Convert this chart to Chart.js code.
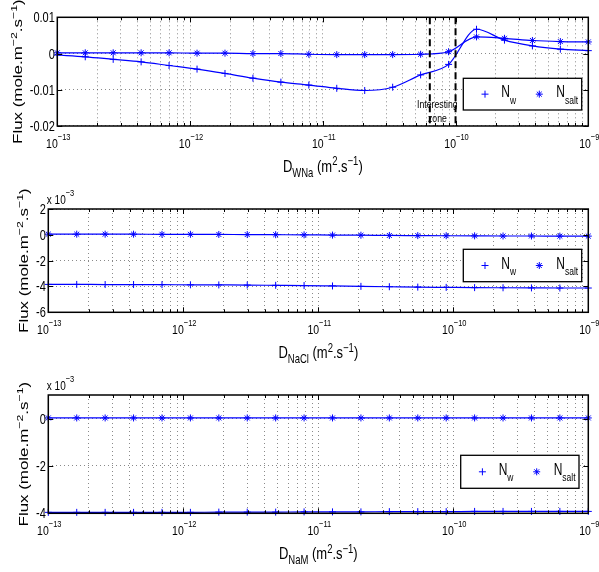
<!DOCTYPE html>
<html>
<head>
<meta charset="utf-8">
<script src="https://cdn.jsdelivr.net/npm/chart.js@4/dist/chart.umd.min.js"></script>
<style>
  html, body { margin: 0; padding: 0; background: #fff; }
  #wrap { position: relative; width: 599px; height: 572px; overflow: hidden; background: #fff; }
  #wrap canvas { position: absolute; left: 0; top: 0; }
</style>
</head>
<body>
<div id="wrap">
  <canvas id="pWNa" width="599" height="572"></canvas>
  <canvas id="pNaCl" width="599" height="572"></canvas>
  <canvas id="pNaM" width="599" height="572"></canvas>
</div>
<script>
// Diffusion coefficients swept (m^2.s^-1), 20 log-spaced points
const diffusivities = [1.000e-13, 1.624e-13, 2.637e-13, 4.281e-13, 6.952e-13,
                       1.129e-12, 1.833e-12, 2.976e-12, 4.833e-12, 7.848e-12,
                       1.274e-11, 2.069e-11, 3.360e-11, 5.456e-11, 8.859e-11,
                       1.438e-10, 2.336e-10, 3.793e-10, 6.158e-10, 1.000e-9];

// Fluxes (mole.m^-2.s^-1) versus D_WNa
const nwWNa    = [-0.0004, -0.0009, -0.0016, -0.0023, -0.0033, -0.0043, -0.0055, -0.0068, -0.0079, -0.0087,
                  -0.0096, -0.0102, -0.0093, -0.0059, -0.0030, 0.0067, 0.0037, 0.0021, 0.0012, 0.0008];
const nsaltWNa = [0.0002, 0.0002, 0.0002, 0.0002, 0.0002, 0.0001, 0.0001, 0.0000, 0.0000, -0.0002,
                  -0.0003, -0.0003, -0.0003, -0.0002, 0.0005, 0.0046, 0.0042, 0.0036, 0.0033, 0.0032];

// Fluxes (mole.m^-2.s^-1) versus D_NaCl
const nwNaCl    = [-3.84e-3, -3.84e-3, -3.85e-3, -3.85e-3, -3.86e-3, -3.87e-3, -3.88e-3, -3.89e-3, -3.91e-3, -3.93e-3,
                   -3.96e-3, -3.99e-3, -4.02e-3, -4.05e-3, -4.07e-3, -4.09e-3, -4.10e-3, -4.11e-3, -4.12e-3, -4.12e-3];
const nsaltNaCl = [0.05e-3, 0.05e-3, 0.05e-3, 0.05e-3, 0.04e-3, 0.04e-3, 0.03e-3, 0.02e-3, 0.01e-3, 0.00e-3,
                   -0.02e-3, -0.03e-3, -0.05e-3, -0.06e-3, -0.07e-3, -0.08e-3, -0.09e-3, -0.09e-3, -0.10e-3, -0.10e-3];

// Fluxes (mole.m^-2.s^-1) versus D_NaM
const nwNaM    = [-3.96e-3, -3.96e-3, -3.96e-3, -3.96e-3, -3.96e-3, -3.96e-3, -3.95e-3, -3.95e-3, -3.95e-3, -3.94e-3,
                  -3.94e-3, -3.94e-3, -3.93e-3, -3.93e-3, -3.93e-3, -3.92e-3, -3.92e-3, -3.92e-3, -3.92e-3, -3.92e-3];
const nsaltNaM = [0.03e-3, 0.03e-3, 0.03e-3, 0.03e-3, 0.03e-3, 0.03e-3, 0.03e-3, 0.03e-3, 0.03e-3, 0.03e-3,
                  0.03e-3, 0.03e-3, 0.03e-3, 0.03e-3, 0.03e-3, 0.03e-3, 0.03e-3, 0.03e-3, 0.03e-3, 0.03e-3];

// Axis ticks and their labels
const xDecades        = [1e-13, 1e-12, 1e-11, 1e-10, 1e-9];
const xDecadeExponent = ['−13', '−12', '−11', '−10', '−9'];
const xMinorMultipliers = [2, 3, 4, 5, 6, 7, 8, 9];
const yTicksWNa       = [-0.02, -0.01, 0, 0.01];
const yTickLabelsWNa  = ['-0.02', '-0.01', '0', '0.01'];
const yTicksNaCl      = [-0.006, -0.004, -0.002, 0, 0.002];
const yTickLabelsNaCl = ['-6', '-4', '-2', '0', '2'];
const yTicksNaM       = [-0.004, -0.002, 0];
const yTickLabelsNaM  = ['-4', '-2', '0'];

// Boundaries of the highlighted D_WNa range and where its caption sits
const zoneBounds = [6.4e-11, 1.0e-10];
const zoneCaptionAt = 7.3e-11;

// ---- drawing helpers ----
const FONT = '"Liberation Sans", Arial, Helvetica, sans-serif';
const STRETCH = 1.3;   // glyphs are drawn taller than wide
const BLUE = '#0000ff';

const xGridValues = [];
xDecades.forEach((d, i) => {
  xGridValues.push(d);
  if (i < xDecades.length - 1) xMinorMultipliers.forEach(m => xGridValues.push(m * d));
});

function richWidth(ctx, segs) {
  let w = 0;
  segs.forEach(s => { ctx.font = s.size + 'px ' + FONT; w += ctx.measureText(s.t).width; });
  return w;
}
function drawRich(ctx, segs, x, y, align, vertical) {
  ctx.save();
  ctx.translate(x, y);
  if (vertical) { ctx.rotate(-Math.PI / 2); ctx.scale(STRETCH, 1); }
  else ctx.scale(1, STRETCH);
  const w = richWidth(ctx, segs);
  let cx = align === 'center' ? -w / 2 : align === 'right' ? -w : 0;
  ctx.fillStyle = '#000';
  ctx.textAlign = 'left';
  ctx.textBaseline = 'alphabetic';
  segs.forEach(s => {
    ctx.font = s.size + 'px ' + FONT;
    ctx.fillText(s.t, cx, s.dy || 0);
    cx += ctx.measureText(s.t).width;
  });
  ctx.restore();
  return w;
}
function drawMarker(ctx, style, x, y, r) {
  ctx.save();
  ctx.strokeStyle = BLUE;
  ctx.lineWidth = 1;
  ctx.beginPath();
  ctx.moveTo(x - r, y); ctx.lineTo(x + r, y);
  ctx.moveTo(x, y - r); ctx.lineTo(x, y + r);
  if (style === 'star') {
    const d = r * Math.SQRT1_2;
    ctx.moveTo(x - d, y - d); ctx.lineTo(x + d, y + d);
    ctx.moveTo(x - d, y + d); ctx.lineTo(x + d, y - d);
  }
  ctx.stroke();
  ctx.restore();
}

// Box, inward ticks, tick labels, axis titles, legend and annotations
const panelDecor = {
  id: 'panelDecor',
  afterDraw(chart, args, o) {
    const ctx = chart.ctx, a = chart.chartArea;
    const xs = chart.scales.x, ys = chart.scales.y;
    ctx.save();

    // inward tick marks on all four sides
    ctx.strokeStyle = '#000';
    ctx.lineWidth = 1;
    ctx.beginPath();
    xGridValues.forEach(v => {
      const x = Math.round(xs.getPixelForValue(v)) + 0.5;
      const len = xDecades.includes(v) ? 5 : 3;
      ctx.moveTo(x, a.bottom); ctx.lineTo(x, a.bottom - len);
      ctx.moveTo(x, a.top); ctx.lineTo(x, a.top + len);
    });
    o.yTicks.forEach(v => {
      const y = Math.round(ys.getPixelForValue(v)) + 0.5;
      ctx.moveTo(a.left, y); ctx.lineTo(a.left + 5, y);
      ctx.moveTo(a.right, y); ctx.lineTo(a.right - 5, y);
    });
    ctx.stroke();

    // axes box
    ctx.lineWidth = 1.5;
    ctx.strokeRect(a.left, a.top, a.right - a.left, a.bottom - a.top);

    // highlighted range
    if (o.zone) {
      ctx.save();
      ctx.strokeStyle = '#000';
      ctx.lineWidth = 2;
      ctx.setLineDash([7, 4]);
      zoneBounds.forEach(v => {
        const x = xs.getPixelForValue(v);
        ctx.beginPath(); ctx.moveTo(x, a.top); ctx.lineTo(x, a.bottom); ctx.stroke();
      });
      ctx.restore();
      const zx = xs.getPixelForValue(zoneCaptionAt);
      drawRich(ctx, [{ t: 'Interesting', size: 8.7 }], zx, a.top + 91, 'center');
      drawRich(ctx, [{ t: 'zone', size: 8.7 }], zx, a.top + 104.4, 'center');
    }

    // y tick labels
    let minLeft = a.left;
    o.yTicks.forEach((v, i) => {
      const y = ys.getPixelForValue(v);
      const w = drawRich(ctx, [{ t: o.yLabels[i], size: 11 }], a.left - 2.5, y + 5, 'right');
      minLeft = Math.min(minLeft, a.left - 2.5 - w);
    });

    // x tick labels (powers of ten)
    xDecades.forEach((v, i) => {
      const x = xs.getPixelForValue(v);
      drawRich(ctx, [{ t: '10', size: 10.5 }, { t: xDecadeExponent[i], size: 7.5, dy: -6 }],
               x + 1, a.bottom + 21.5, 'center');
    });

    // multiplier above the y axis
    if (o.exponent) {
      drawRich(ctx, [{ t: 'x 10', size: 10 }, { t: o.exponent, size: 7.5, dy: -6 }],
               a.left - 1.5, a.top - 5.5, 'left');
    }

    // x axis title
    drawRich(ctx, [
      { t: 'D', size: 13 }, { t: o.sub, size: 9.5, dy: 3.8 },
      { t: ' (m', size: 13 }, { t: '2', size: 9.5, dy: -5.2 },
      { t: '.s', size: 13 }, { t: '−1', size: 9.5, dy: -5.2 }, { t: ')', size: 13 }
    ], (a.left + a.right) / 2, a.bottom + 46, 'center');

    // y axis title
    drawRich(ctx, [
      { t: 'Flux (mole.m', size: 13 }, { t: '−2', size: 9.5, dy: -5.2 },
      { t: '.s', size: 13 }, { t: '−1', size: 9.5, dy: -5.2 }, { t: ')', size: 13 }
    ], minLeft - 8, (a.top + a.bottom) / 2, 'center', true);

    // legend
    const L = o.legend;
    const bx = a.right - L.right - L.w, by = a.top + L.top;
    ctx.fillStyle = '#fff';
    ctx.fillRect(bx, by, L.w, L.h);
    ctx.strokeStyle = '#000';
    ctx.lineWidth = 1.3;
    ctx.strokeRect(bx, by, L.w, L.h);
    const cy = by + L.h / 2;
    const sets = chart.data.datasets;
    drawMarker(ctx, sets[0].pointStyle, bx + 21.7, cy, 3.5);
    drawRich(ctx, [{ t: 'N', size: 12 }, { t: 'w', size: 8.5, dy: 5 }], bx + 38, cy + 3, 'left');
    drawMarker(ctx, sets[1].pointStyle, bx + 76, cy, 3.5);
    drawRich(ctx, [{ t: 'N', size: 12 }, { t: 'salt', size: 8.5, dy: 5 }], bx + 93, cy + 3, 'left');

    ctx.restore();
  }
};

function makePanel(canvasId, cfg) {
  const series = (data, style) => ({
    data: diffusivities.map((d, i) => ({ x: d, y: data[i] })),
    borderColor: BLUE,
    backgroundColor: BLUE,
    borderWidth: 1.2,
    pointStyle: style,
    pointRadius: 3.5,
    pointBorderWidth: 1,
    pointBorderColor: BLUE,
    pointHoverRadius: 3.5,
    cubicInterpolationMode: 'monotone',
    clip: false,
    fill: false
  });
  return new Chart(document.getElementById(canvasId), {
    type: 'line',
    data: { datasets: [series(cfg.nw, 'cross'), series(cfg.ns, 'star')] },
    options: {
      responsive: false,
      animation: false,
      events: [],
      layout: { padding: cfg.padding },
      plugins: {
        legend: { display: false },
        tooltip: { enabled: false },
        panelDecor: {
          yTicks: cfg.yTicks, yLabels: cfg.yLabels, sub: cfg.sub,
          exponent: cfg.exponent, zone: cfg.zone, legend: cfg.legend
        }
      },
      scales: {
        x: {
          type: 'logarithmic',
          min: 1e-13, max: 1e-9,
          afterBuildTicks: s => { s.ticks = xGridValues.map(v => ({ value: v })); },
          afterFit: s => { s.height = 0; },
          ticks: { display: false },
          grid: { color: 'rgba(60,60,60,0.6)', lineWidth: 1, drawTicks: false },
          border: { display: false, dash: [1, 3] }
        },
        y: {
          type: 'linear',
          min: cfg.yMin, max: cfg.yMax,
          afterBuildTicks: s => { s.ticks = cfg.yTicks.map(v => ({ value: v })); },
          afterFit: s => { s.width = 0; },
          ticks: { display: false },
          grid: { color: 'rgba(60,60,60,0.6)', lineWidth: 1, drawTicks: false },
          border: { display: false, dash: [1, 3] }
        }
      }
    },
    plugins: [panelDecor]
  });
}

makePanel('pWNa', {
  nw: nwWNa, ns: nsaltWNa, sub: 'WNa',
  yMin: -0.02, yMax: 0.01, yTicks: yTicksWNa, yLabels: yTickLabelsWNa,
  zone: true,
  padding: { left: 57.3, right: 10.7, top: 17.3, bottom: 446 },
  legend: { right: 6.6, w: 118.4, top: 61, h: 31.7 }
});
makePanel('pNaCl', {
  nw: nwNaCl, ns: nsaltNaCl, sub: 'NaCl', exponent: '−3',
  yMin: -0.006, yMax: 0.002, yTicks: yTicksNaCl, yLabels: yTickLabelsNaCl,
  padding: { left: 48.3, right: 10.7, top: 209, bottom: 259.7 },
  legend: { right: 6.6, w: 118.4, top: 40.3, h: 32.4 }
});
makePanel('pNaM', {
  nw: nwNaM, ns: nsaltNaM, sub: 'NaM', exponent: '−3',
  yMin: -0.004, yMax: 0.001, yTicks: yTicksNaM, yLabels: yTickLabelsNaM,
  padding: { left: 48.3, right: 10.7, top: 395, bottom: 58.7 },
  legend: { right: 9.3, w: 118.3, top: 60.3, h: 33 }
});
</script>
</body>
</html>
